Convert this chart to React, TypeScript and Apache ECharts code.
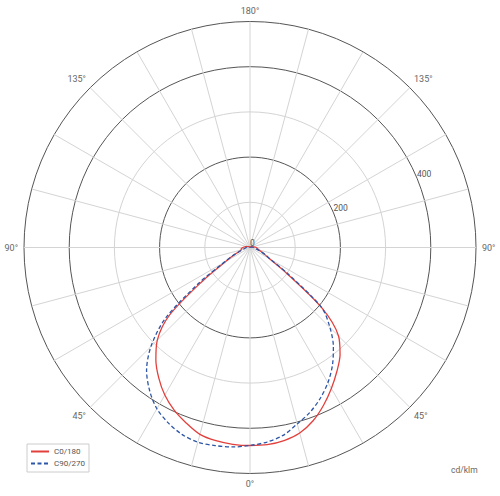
import { useEffect, useRef } from "react";
import * as echarts from "echarts";

// gamma angles (degrees from nadir) at which the intensities were read
const GAMMA = [0, 5, 10, 15, 20, 25, 30, 35, 40, 45, 50, 55, 60, 65, 70, 75, 80, 85, 90, 100, 110, 120, 135, 150, 165, 180];

// cd/klm, red plane: left half (C180) and right half (C0)
const C180 = [438, 437, 434, 428, 413, 397, 377, 352, 324, 290, 232, 125, 62, 40, 25, 20, 20, 18, 16, 10, 6, 4, 2, 1, 0, 0];
const C0 = [438, 438, 434, 425, 408, 385, 360, 335, 310, 277, 207, 98, 50, 36, 26, 20, 18, 16, 14, 8, 5, 3, 2, 1, 0, 0];

// cd/klm, blue plane: left half (C90) and right half (C270)
const C90 = [438, 443, 445, 446, 440, 428, 412, 387, 356, 310, 245, 140, 68, 40, 24, 16, 12, 10, 8, 5, 3, 2, 1, 0, 0, 0];
const C270 = [438, 432, 422, 404, 388, 368, 345, 318, 287, 250, 207, 105, 52, 36, 24, 16, 12, 10, 8, 5, 3, 2, 1, 0, 0, 0];

const SERIES_NAMES = ["C0/180", "C90/270"];
const ANGLE_LABELS = [0, 45, 90, 135, 180];
const RADIUS_MAX = 500;
const UNIT = "cd/klm";

// one curve: right half from the top down to nadir, then left half back up
function plane(left: number[], right: number[]) {
  const pts: number[][] = [];
  for (let i = GAMMA.length - 1; i >= 1; i--) pts.push([right[i], 360 - GAMMA[i]]);
  for (let i = 0; i < GAMMA.length; i++) pts.push([left[i], GAMMA[i]]);
  return pts;
}

export default function App() {
  const ref = useRef<HTMLDivElement>(null);

  useEffect(() => {
    if (!ref.current) return;
    const chart = echarts.init(ref.current, null, { renderer: "svg" });
    const center = [250, 247.5];
    const radius = 226;

    chart.setOption({
      animation: false,
      textStyle: { fontFamily: "Roboto, sans-serif" },
      title: {
        text: UNIT,
        left: 451,
        top: 465,
        padding: 0,
        textStyle: { fontSize: 8.5, color: "#666", fontWeight: "normal" },
      },
      legend: {
        data: SERIES_NAMES,
        orient: "vertical",
        left: 27,
        top: 444,
        padding: [3, 4, 4, 3],
        itemWidth: 18,
        itemHeight: 9,
        itemGap: 3,
        borderColor: "#ccc",
        borderWidth: 1,
        backgroundColor: "#fff",
        itemStyle: { opacity: 0, borderWidth: 0 },
        textStyle: { fontSize: 8, color: "#555", lineHeight: 9 },
      },
      polar: [
        { center, radius },
        { center, radius },
      ],
      angleAxis: [
        {
          polarIndex: 0,
          type: "value",
          min: 0,
          max: 360,
          interval: 15,
          startAngle: 270,
          clockwise: true,
          axisLine: { show: false },
          axisTick: { show: false },
          splitLine: { lineStyle: { color: "#d4d4d4", width: 1 } },
          axisLabel: {
            margin: 6,
            fontSize: 9,
            color: "#666",
            formatter: (v: number) => {
              const a = v <= 180 ? v : 360 - v;
              return v < 360 && ANGLE_LABELS.includes(a) ? a + "°" : "";
            },
          },
        },
        {
          polarIndex: 1,
          type: "value",
          min: 0,
          max: 360,
          startAngle: 22.5,
          show: false,
        },
      ],
      radiusAxis: [
        {
          polarIndex: 0,
          type: "value",
          min: 0,
          max: RADIUS_MAX,
          interval: 100,
          axisLine: { show: false },
          axisTick: { show: false },
          axisLabel: { show: false },
          splitLine: {
            lineStyle: {
              color: ["#d4d4d4", "#d4d4d4", "#555", "#d4d4d4", "#555", "#555"],
              width: 1,
            },
          },
        },
        {
          polarIndex: 1,
          type: "value",
          min: 0,
          max: RADIUS_MAX,
          interval: 200,
          axisLine: { show: false },
          axisTick: { show: false },
          splitLine: { show: false },
          axisLabel: {
            showMaxLabel: false,
            margin: 0,
            fontSize: 8.5,
            color: "#555",
            align: "left",
            verticalAlign: "bottom",
          },
        },
      ],
      series: [
        {
          name: SERIES_NAMES[0],
          type: "line",
          coordinateSystem: "polar",
          polarIndex: 0,
          data: plane(C180, C0),
          symbol: "none",
          smooth: 0.3,
          lineStyle: { color: "#e2403c", width: 1.3 },
          itemStyle: { color: "#e2403c" },
        },
        {
          name: SERIES_NAMES[1],
          type: "line",
          coordinateSystem: "polar",
          polarIndex: 0,
          data: plane(C90, C270),
          symbol: "none",
          smooth: 0.3,
          lineStyle: { color: "#2d56a6", width: 1.3, type: [4, 2.5] },
          itemStyle: { color: "#2d56a6" },
        },
      ],
    });

    return () => chart.dispose();
  }, []);

  return (
    <div
      ref={ref}
      style={{ position: "absolute", left: 0, top: 0, width: 500, height: 496 }}
    />
  );
}
